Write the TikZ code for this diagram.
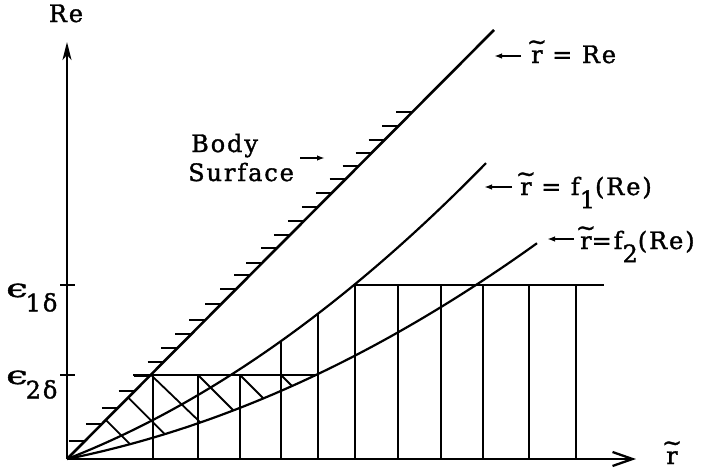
\documentclass[tikz,border=0pt]{standalone}
\usepackage{fontspec}
\usepackage{graphicx}
\setmainfont{DejaVu Serif}[LetterSpace=8,FakeBold=1.4]
\usetikzlibrary{arrows.meta}
\newcommand\rtil{\ooalign{r\cr\hidewidth\raisebox{0.55em}{\char"7E}\hidewidth\cr}}
\newcommand\lowsub[2]{\raisebox{-#1}{#2}}
\newcommand\wideeps{\scalebox{1.6}[1.05]{ϵ}}
\begin{document}
\begin{tikzpicture}[x=1pt,y=-1pt,
  every node/.style={inner sep=0pt,font=\fontsize{24}{28}\selectfont},
  axis/.style={line width=2.3pt},
  body/.style={line width=2.6pt},
  curve/.style={line width=2.2pt},
  level/.style={line width=2.2pt},
  vline/.style={line width=1.6pt},
  diag/.style={line width=1.8pt},
  hash/.style={line width=1.4pt},
  lblarrow/.style={line width=1.6pt,-{Latex[length=8pt,width=5.5pt]}}]
\useasboundingbox (0,0) rectangle (712,471);
% axes
\coordinate (O) at (67,459);
\coordinate (ytop) at (67,42);
\coordinate (xend) at (636,459);
\draw[axis,-{Stealth[length=18pt,width=9pt,inset=5pt]}] (O) -- (ytop);
\draw[axis,-{Straight Barb[length=20pt,width=14pt]}] (O) -- (xend);
\draw[axis] (60,285) -- (75,285);
\draw[axis] (60,375) -- (75,375);
% body surface line
\coordinate (btop) at (494,30);
\draw[body] (O) -- (btop);
\foreach \yy in {112,126,140,153,166,179,193,207,221,235,248,263,275,289,304,320,334,348,362,376,391,408,424,441}
  \draw[hash] ({67+(459-\yy)*0.9953-16},\yy) -- ({67+(459-\yy)*0.9953},\yy);
% curves
\draw[curve] plot[domain=0:419,samples=90,smooth] ({67+\x},{459-0.389*\x-7.57*(\x/100)^2});
\draw[curve] plot[domain=0:470,samples=90,smooth] ({67+\x},{459-0.2006*\x-5.5*(\x/100)^2});
% level lines
\draw[level] (133,375) -- (316,375);
\draw[level] (354,285) -- (604,285);
% verticals
\foreach \xx in {153,198,240} \draw[vline] (\xx,459) -- (\xx,375);
\draw[vline] (281,459) -- (281,341);
\draw[vline] (318,459) -- (318,313.7);
\foreach \xx in {355,398,441,483,529,576} \draw[vline] (\xx,459) -- (\xx,285);
% diagonals
\draw[diag] (105.8,420) -- (130,444.2);
\draw[diag] (128.2,397.5) -- (164.8,434.1);
\draw[diag] (151,375) -- (200.5,422.5);
\draw[diag] (198,375) -- (233.4,410.4);
\draw[diag] (240,375) -- (263.4,398.4);
\draw[diag] (281,375) -- (292,386);
% labels
\node[anchor=base] (re) at (66,22) {Re};
\node[anchor=base] (rx) at (672,464) {\rtil};
\node[anchor=base west] (e1) at (6,297) {\wideeps\kern-2pt\lowsub{0.6em}{1δ}};
\node[anchor=base west] (e2) at (6,384) {\wideeps\kern-2pt\lowsub{0.6em}{2δ}};
\node[anchor=base west] (bd) at (191,152) {Body};
\node[anchor=base west] (sf) at (188,181) {Surface};
\draw[lblarrow] (300,158) -- (325,158);
\node[anchor=base west] (l0) at (531,63) {\rtil{} = Re};
\draw[lblarrow] (521,56) -- (494,56);
\node[anchor=base west] (l1) at (520,195) {\rtil{} = f\lowsub{0.55em}{1}(Re)};
\draw[lblarrow] (512,187) -- (484,187);
\node[anchor=base west] (l2) at (580,249) {\rtil{}=f\lowsub{0.55em}{2}(Re)};
\draw[lblarrow] (574,239) -- (547,239);
\end{tikzpicture}
\end{document}
